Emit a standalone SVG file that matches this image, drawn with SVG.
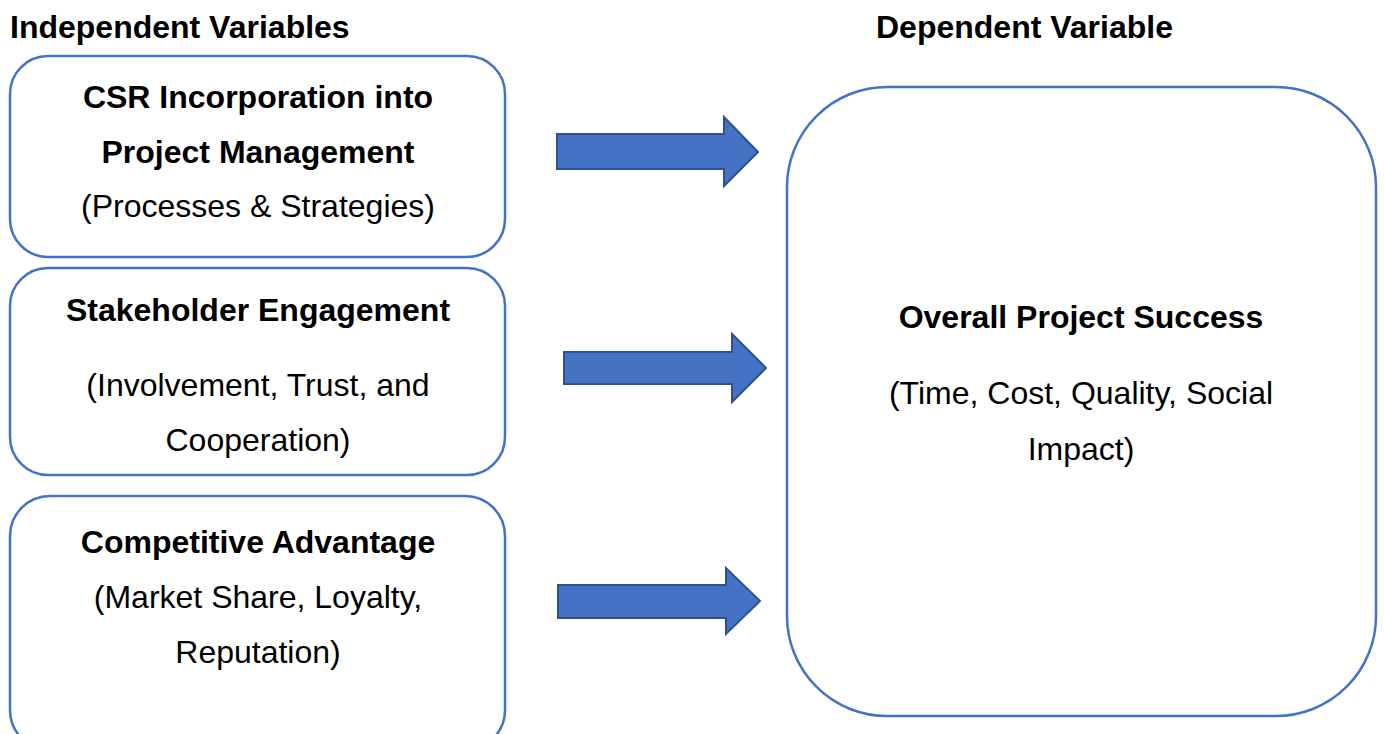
<svg xmlns="http://www.w3.org/2000/svg" width="1384" height="734" viewBox="0 0 1384 734">
<style>
.box{fill:#fff;stroke:#4472C4;stroke-width:2.5}
.arr{fill:#4472C4;stroke:#2F528F;stroke-width:2;stroke-linejoin:miter}
text{font-family:"Liberation Sans",Arial,sans-serif;font-size:32px;fill:#000;text-anchor:middle}
.b{font-weight:bold}
.h{font-weight:bold;text-anchor:start}
</style>
<rect width="1384" height="734" fill="#fff"/>
<g id="headers">
<text class="h" x="10" y="38">Independent Variables</text>
<text class="h" x="876" y="38">Dependent Variable</text>
</g>
<g id="node-csr">
<rect class="box" x="10" y="56" width="495" height="201" rx="38"/>
<text class="b" x="258" y="108">CSR Incorporation into</text>
<text class="b" x="258" y="163">Project Management</text>
<text x="258" y="217">(Processes &amp; Strategies)</text>
</g>
<g id="node-stakeholder">
<rect class="box" x="10" y="268" width="495" height="207" rx="38"/>
<text class="b" x="258" y="321">Stakeholder Engagement</text>
<text x="258" y="396">(Involvement, Trust, and</text>
<text x="258" y="451">Cooperation)</text>
</g>
<g id="node-competitive">
<rect class="box" x="10" y="496" width="495" height="254" rx="40"/>
<text class="b" x="258" y="553">Competitive Advantage</text>
<text x="258" y="608">(Market Share, Loyalty,</text>
<text x="258" y="663">Reputation)</text>
</g>
<g id="node-success">
<rect class="box" x="787" y="87" width="589" height="629" rx="100"/>
<text class="b" x="1081" y="328">Overall Project Success</text>
<text x="1081" y="404">(Time, Cost, Quality, Social</text>
<text x="1081" y="460">Impact)</text>
</g>
<g id="connectors">
<path class="arr" d="M557,134 H724 V117 L758,152 L724,186 V169 H557 Z"/>
<path class="arr" d="M564,352 H732 V334 L766,368 L732,402 V384 H564 Z"/>
<path class="arr" d="M558,585 H726 V568 L760,601 L726,634 V618 H558 Z"/>
</g>
</svg>
